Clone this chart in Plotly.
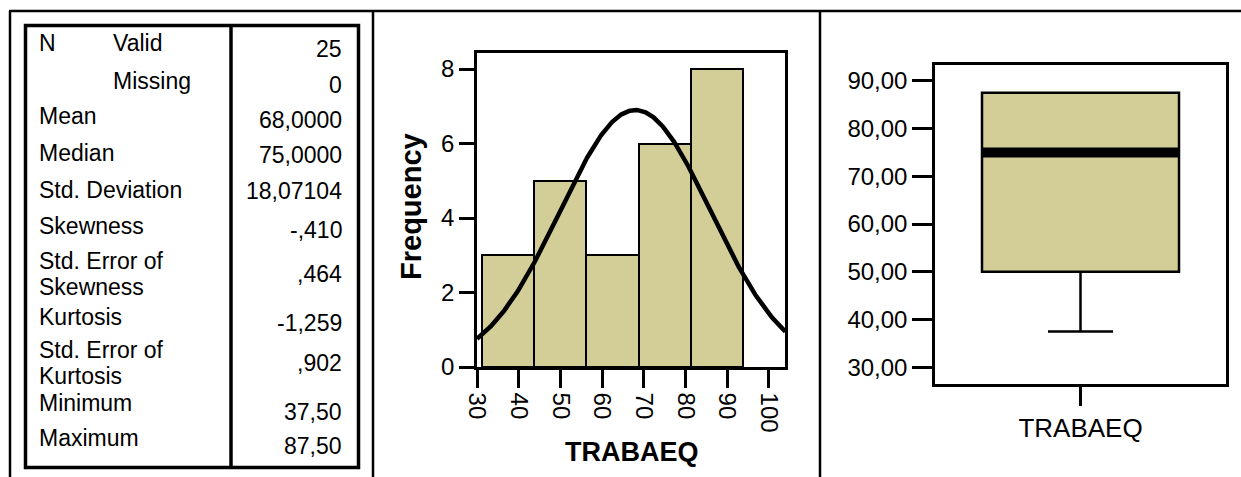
import numpy as np
import plotly.graph_objects as go

W, H = 1241, 477

# ---- Descriptive statistics table -------------------------------------
group_label = "N"
stat_labels = ["Valid", "Missing", "Mean", "Median", "Std. Deviation", "Skewness",
               "Std. Error of\nSkewness", "Kurtosis", "Std. Error of\nKurtosis",
               "Minimum", "Maximum"]
stat_values = ["25", "0", "68,0000", "75,0000", "18,07104", "-,410", ",464",
               "-1,259", ",902", "37,50", "87,50"]

# ---- Histogram of TRABAEQ ---------------------------------------------
bin_centers = [37.5, 50.0, 62.5, 75.0, 87.5]
bin_counts = [3, 5, 3, 6, 8]
bin_width = 12.5
hist_xticks = [30, 40, 50, 60, 70, 80, 90, 100]
hist_yticks = [0, 2, 4, 6, 8]

# normal curve parameters (N, mean, std. deviation)
n_valid = 25
mean_val = 68.0
std_val = 18.07104

# ---- Box plot summary -------------------------------------------------
box_min = 37.5
box_q1 = 50.0
box_median = 75.0
box_q3 = 87.5
box_max = 87.5
box_yticks = [30, 40, 50, 60, 70, 80, 90]
variable_name = "TRABAEQ"

FILL = "#D3CE97"
FONT = "Liberation Sans, Arial, sans-serif"


def px(x):
    return x / W


def py(y):
    return 1 - y / H


fig = go.Figure()

# histogram bars
fig.add_trace(go.Bar(
    x=bin_centers, y=bin_counts, width=bin_width,
    marker=dict(color=FILL, line=dict(color="black", width=2)),
    xaxis="x", yaxis="y", showlegend=False, hoverinfo="skip"))

# fitted normal curve
xs = np.linspace(30, 104, 400)
ys = n_valid * bin_width * np.exp(-0.5 * ((xs - mean_val) / std_val) ** 2) / (std_val * np.sqrt(2 * np.pi))
fig.add_trace(go.Scatter(
    x=xs, y=ys, mode="lines", line=dict(color="black", width=4.5),
    xaxis="x", yaxis="y", showlegend=False, hoverinfo="skip"))

# box plot
fig.add_trace(go.Box(
    x=[0], q1=[box_q1], median=[box_median], q3=[box_q3],
    lowerfence=[box_min], upperfence=[box_max],
    width=1.0, whiskerwidth=0.33, fillcolor=FILL,
    line=dict(color="black", width=2.5), boxpoints=False,
    xaxis="x2", yaxis="y2", showlegend=False, hoverinfo="skip"))

# thick median bar
fig.add_trace(go.Scatter(
    x=[-0.5, 0.5], y=[box_median, box_median], mode="lines",
    line=dict(color="black", width=10),
    xaxis="x2", yaxis="y2", showlegend=False, hoverinfo="skip"))

axis_common = dict(showline=True, mirror=True, linecolor="black", linewidth=2.5,
                   ticks="outside", tickcolor="black", tickwidth=2.5,
                   showgrid=False, zeroline=False, automargin=False,
                   tickfont=dict(family=FONT, size=24, color="black"))

fig.update_layout(
    width=W, height=H, autosize=False,
    margin=dict(l=0, r=0, t=0, b=0, pad=0),
    paper_bgcolor="white", plot_bgcolor="white",
    separators=",.",
    bargap=0,
    xaxis=dict(domain=[px(477), px(785)], range=[30, 103.9],
               tickvals=hist_xticks, tickangle=90, ticklen=18, **axis_common),
    yaxis=dict(domain=[py(367), py(53)], range=[0, 8.43],
               tickvals=hist_yticks, ticklen=15, **axis_common),
    xaxis2=dict(domain=[px(935), px(1226)], range=[-0.7386, 0.7386],
                tickvals=[0], ticktext=[variable_name], ticklen=19,
                anchor="y2", **{**axis_common,
                                "tickfont": dict(family=FONT, size=26, color="black")}),
    yaxis2=dict(domain=[py(384), py(65)], range=[26.5, 93.3],
                tickvals=box_yticks, tickformat=".2f", ticklen=20,
                anchor="x2", **axis_common),
)

shapes = []
# outer frame of the output pane
shapes.append(dict(type="line", x0=px(9), x1=1, y0=py(11), y1=py(11),
                   line=dict(color="black", width=2.5)))
for xv in [10, 373, 820]:
    shapes.append(dict(type="line", x0=px(xv), x1=px(xv), y0=py(11), y1=0,
                       line=dict(color="black", width=2.5)))
# statistics table border and column divider
shapes.append(dict(type="rect", x0=px(25.5), x1=px(358.5), y0=py(467.5), y1=py(25.5),
                   line=dict(color="black", width=3.5)))
shapes.append(dict(type="line", x0=px(231), x1=px(231), y0=py(467.5), y1=py(25.5),
                   line=dict(color="black", width=3.5)))
for s in shapes:
    s.update(xref="paper", yref="paper")
fig.update_layout(shapes=shapes)

annotations = []


def text(x, y, s, anchor="left", size=23, bold=False, angle=0):
    annotations.append(dict(
        x=px(x), y=py(y), xref="paper", yref="paper", text=f"<b>{s}</b>" if bold else s,
        showarrow=False, xanchor=anchor, yanchor="middle", textangle=angle,
        font=dict(family=FONT, size=size, color="black")))


label_x = [111, 111] + [37] * 9
label_y = [43, 81, 116, 153, 190, 226, (261, 287), 317, (350, 376), 403, 438]
value_y = [49, 85, 120, 155, 191, 230, 274, 323, 363, 412, 446]

text(37, 43, group_label)
for lab, lx, ly in zip(stat_labels, label_x, label_y):
    lines = lab.split("\n")
    ys_ = ly if isinstance(ly, tuple) else (ly,)
    for line, yy in zip(lines, ys_):
        text(lx, yy, line)
for val, vy in zip(stat_values, value_y):
    text(344, vy, val, anchor="right")

# axis titles of the histogram
text(411, 207, "Frequency", anchor="center", size=29, bold=True, angle=-90)
text(632, 452, variable_name, anchor="center", size=27, bold=True)

fig.update_layout(annotations=annotations)

fig.write_html("out.html")
